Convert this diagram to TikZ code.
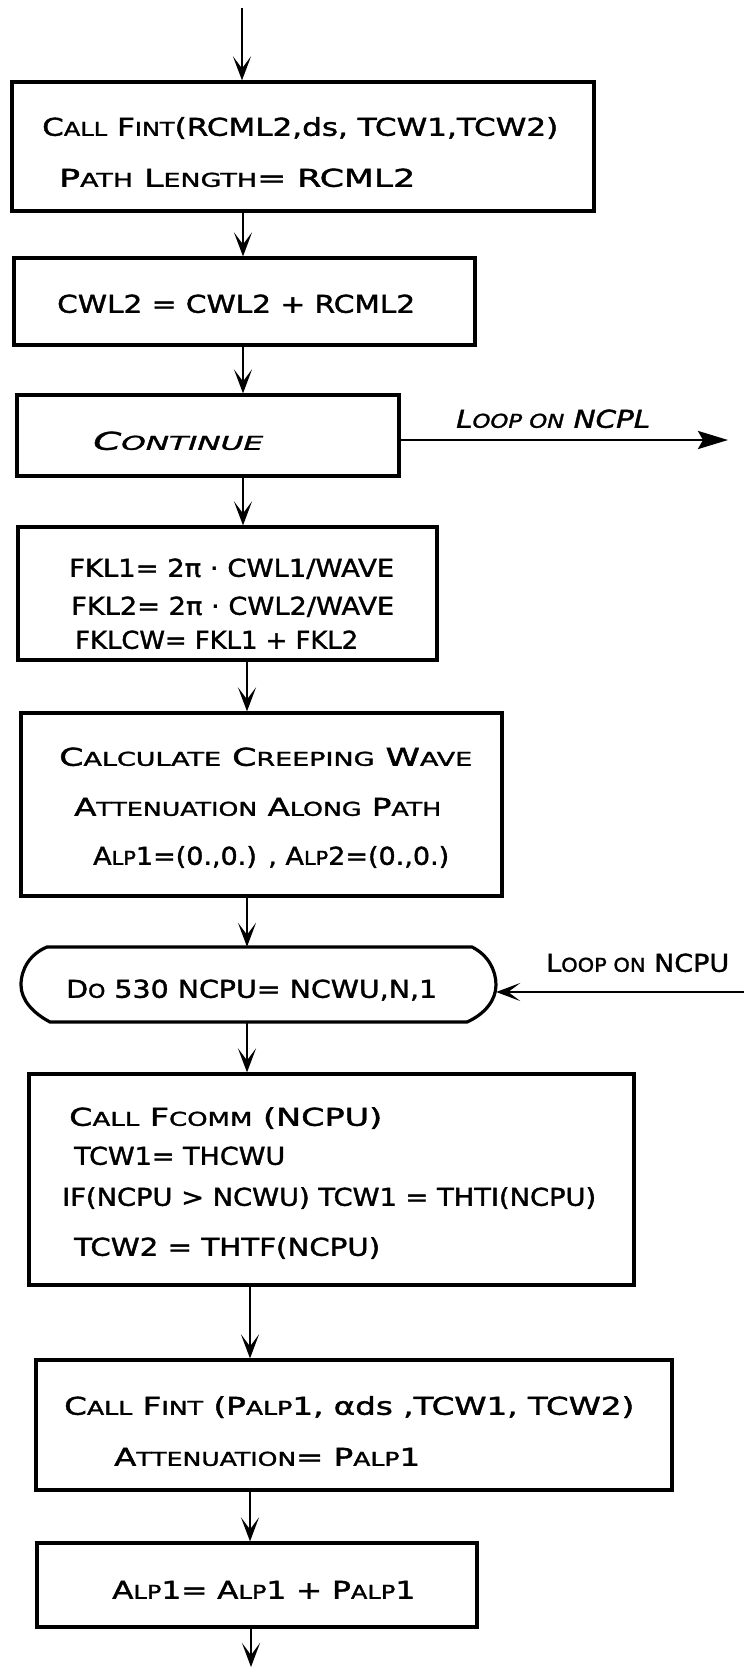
\documentclass[tikz,border=0pt]{standalone}
\usepackage{fontspec}
\setmainfont{DejaVu Sans}[FakeBold=1.4]
\usepackage{graphicx}
\usetikzlibrary{arrows.meta,calc}
\newcommand\sm[1]{{\fontsize{19}{19}\selectfont #1}}
\newcommand\fit[2]{\resizebox{#1pt}{\height}{#2}}
\begin{document}
\begin{tikzpicture}[x=1pt,y=-1pt,
  box/.style={draw, line width=3.2pt, inner sep=0pt},
  txt/.style={anchor=west, inner sep=0pt, text height=17.5pt, text depth=0pt,
    font=\fontsize{24.5}{24.5}\selectfont},
  flow/.style={line width=2.8pt, -{Stealth[length=24pt,width=18pt,inset=12pt]}},
  loopout/.style={line width=2.8pt, -{Stealth[length=30pt,width=18pt,inset=5pt]}}]
\useasboundingbox (0,0) rectangle (744,1668);
\fill[white] (0,0) rectangle (744,1668);

% boxes
\node[box, minimum width=582pt, minimum height=129pt] (b1) at (303,146.5) {};
\node[box, minimum width=461pt, minimum height=87pt] (b2) at (244.5,301.5) {};
\node[box, minimum width=382pt, minimum height=81pt] (b3) at (208,435.5) {};
\node[box, minimum width=419pt, minimum height=133pt] (b4) at (227.5,593.5) {};
\node[box, minimum width=481pt, minimum height=183pt] (b5) at (261.5,804.5) {};
\node[inner sep=0pt, minimum width=475pt, minimum height=75pt] (b6) at (258.5,984.5) {};
\draw[line width=3.2pt] (47,947) -- (472,947)
  .. controls (488,955) and (496,970) .. (496,985)
  .. controls (496,1000) and (485,1014) .. (467,1022) -- (50,1022)
  .. controls (33,1013) and (21,1000) .. (21,985)
  .. controls (21,969) and (30,954) .. (47,947) -- cycle;
\node[box, minimum width=605pt, minimum height=211pt] (b7) at (331.5,1179.5) {};
\node[box, minimum width=636pt, minimum height=130pt] (b8) at (354,1425) {};
\node[box, minimum width=440pt, minimum height=84pt] (b9) at (257,1585) {};

% texts
\node[txt] (t1a) at (42,127) {\fit{516}{C\sm{ALL} F\sm{INT}(RCML2,ds, TCW1,TCW2)}};
\node[txt] (t1b) at (59,178) {\fit{356}{P\sm{ATH} L\sm{ENGTH}= RCML2}};
\node[txt] (t2) at (57,304) {\fit{358}{CWL2 = CWL2 + RCML2}};
\node[txt] (t3) at (93,441) {\fit{170}{\itshape C\sm{ONTINUE}}};
\node[txt] (l1) at (456,419) {\fit{194}{\itshape L\sm{OOP ON} NCPL}};
\node[txt] (t4a) at (69,568) {\fit{325}{FKL1= 2π · CWL1/WAVE}};
\node[txt] (t4b) at (71,606) {\fit{323}{FKL2= 2π · CWL2/WAVE}};
\node[txt] (t4c) at (75,640) {\fit{283}{FKLCW= FKL1 + FKL2}};
\node[txt] (t5a) at (59,757) {\fit{413}{C\sm{ALCULATE} C\sm{REEPING} W\sm{AVE}}};
\node[txt] (t5b) at (74,807) {\fit{367}{A\sm{TTENUATION} A\sm{LONG} P\sm{ATH}}};
\node[txt] (t5c) at (93,856) {\fit{356}{A\sm{LP}1=(0.,0.) , A\sm{LP}2=(0.,0.)}};
\node[txt] (t6) at (66,989) {\fit{371}{D\sm{O} 530 NCPU= NCWU,N,1}};
\node[txt] (l2) at (546,963) {\fit{183}{L\sm{OOP ON} NCPU}};
\node[txt] (t7a) at (69,1117) {\fit{313}{C\sm{ALL} F\sm{COMM} (NCPU)}};
\node[txt] (t7b) at (74,1156) {\fit{211}{TCW1= THCWU}};
\node[txt] (t7c) at (62,1197) {\fit{534}{IF(NCPU > NCWU) TCW1 = THTI(NCPU)}};
\node[txt] (t7d) at (74,1247) {\fit{306}{TCW2 = THTF(NCPU)}};
\node[txt] (t8a) at (64,1406) {\fit{570}{C\sm{ALL} F\sm{INT} (P\sm{ALP}1, αds ,TCW1, TCW2)}};
\node[txt] (t8b) at (114,1457) {\fit{306}{A\sm{TTENUATION}= P\sm{ALP}1}};
\node[txt] (t9) at (112,1590) {\fit{303}{A\sm{LP}1= A\sm{LP}1 + P\sm{ALP}1}};

% connector helpers
\coordinate (top) at (242,8);
\coordinate (bot) at (251,1667);
\coordinate (c1) at (243,0);
\coordinate (c2) at (247,0);
\coordinate (c3) at (250,0);
\coordinate (lpl) at (728,440);
\coordinate (lpu) at (744,992);

% connectors
\draw[flow] (top) -- (top |- b1.north);
\draw[flow] (b1.south -| c1) -- (b2.north -| c1);
\draw[flow] (b2.south -| c1) -- (b3.north -| c1);
\draw[flow] (b3.south -| c1) -- (b4.north -| c1);
\draw[flow] (b4.south -| c2) -- (b5.north -| c2);
\draw[flow] (b5.south -| c2) -- (b6.north -| c2);
\draw[flow] (b6.south -| c2) -- (b7.north -| c2);
\draw[flow] (b7.south -| c3) -- (b8.north -| c3);
\draw[flow] (b8.south -| c3) -- (b9.north -| c3);
\draw[flow] (b9.south -| bot) -- (bot);
\draw[loopout] (lpl -| b3.east) -- (lpl);
\draw[flow] (lpu) -- (lpu -| b6.east);
\end{tikzpicture}
\end{document}
